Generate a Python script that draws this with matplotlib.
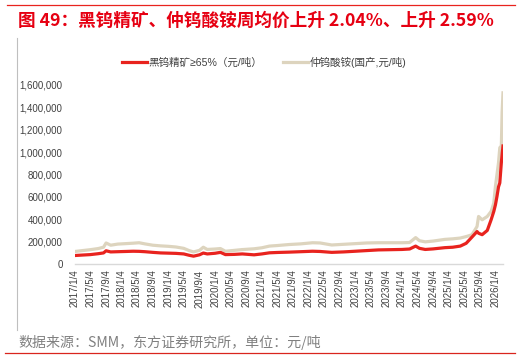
import matplotlib
matplotlib.use("Agg")
import matplotlib.pyplot as plt
from matplotlib.lines import Line2D
import pandas as pd
from matplotlib.ticker import FuncFormatter

plt.rcParams['font.family'] = ['Liberation Sans', 'Noto Sans CJK SC', 'DejaVu Sans']

dates = ["2017-01-04", "2017-03-04", "2017-05-04", "2017-07-04", "2017-08-15", "2017-09-04",
         "2017-10-10", "2017-12-04", "2018-02-04", "2018-04-04", "2018-05-20", "2018-07-04",
         "2018-09-04", "2018-11-04", "2019-01-04", "2019-03-04", "2019-05-04", "2019-06-15",
         "2019-07-20", "2019-09-04", "2019-10-04", "2019-11-04", "2020-01-04", "2020-02-15",
         "2020-03-25", "2020-06-04", "2020-08-04", "2020-11-04", "2021-01-04", "2021-03-04",
         "2021-05-04", "2021-08-04", "2021-11-04", "2022-02-04", "2022-04-04", "2022-07-04",
         "2022-10-04", "2023-01-04", "2023-04-04", "2023-07-04", "2023-10-04", "2024-01-04",
         "2024-03-04", "2024-04-20", "2024-05-20", "2024-07-04", "2024-09-04", "2024-12-04",
         "2025-02-04", "2025-04-04", "2025-05-20", "2025-07-04", "2025-08-13", "2025-08-25",
         "2025-09-22", "2025-11-01", "2025-12-01", "2025-12-22", "2026-01-04", "2026-01-16",
         "2026-01-28", "2026-02-07", "2026-02-19", "2026-02-25", "2026-03-04"]

# 仲钨酸铵(国产), 千元/吨
apt_k = [112, 120, 128, 138, 150, 188, 168, 178, 182, 186, 190, 180,
         168, 162, 158, 152, 140, 120, 108, 122, 150, 130, 134, 138,
         114, 122, 129, 136, 145, 160, 165, 174, 180, 190, 188, 170,
         176, 182, 188, 190, 190, 190, 192, 236, 208, 198, 205, 220,
         225, 232, 245, 261, 335, 425, 395, 425, 470, 545, 695, 800,
         905, 1040, 1055, 1355, 1530]

# 黑钨精矿≥65%, 千元/吨
wolf_k = [76, 80, 84, 92, 99, 118, 108, 110, 112, 114, 113, 110,
          104, 99, 97, 95, 90, 78, 70, 82, 98, 90, 96, 104,
          84, 86, 90, 82, 90, 100, 103, 106, 110, 114, 112, 104,
          108, 114, 120, 126, 128, 130, 134, 160, 140, 130, 135, 146,
          150, 160, 185, 240, 290, 275, 262, 300, 395, 470, 530, 605,
          690, 725, 905, 980, 1055]

tick_labels = ["2017/1/4", "2017/5/4", "2017/9/4", "2018/1/4", "2018/5/4", "2018/9/4",
               "2019/1/4", "2019/5/4", "2019/9/4", "2020/1/4", "2020/5/4", "2020/9/4",
               "2021/1/4", "2021/5/4", "2021/9/4", "2022/1/4", "2022/5/4", "2022/9/4",
               "2023/1/4", "2023/5/4", "2023/9/4", "2024/1/4", "2024/5/4", "2024/9/4",
               "2025/1/4", "2025/5/4", "2025/9/4", "2026/1/4"]

label_wolf = "黑钨精矿≥65%（元/吨）"
label_apt = "仲钨酸铵(国产,元/吨)"
title = "图 49：黑钨精矿、仲钨酸铵周均价上升 2.04%、上升 2.59%"
source = "数据来源：SMM，东方证券研究所，单位：元/吨"

x = pd.to_datetime(dates)
apt = [v * 1000 for v in apt_k]
wolf = [v * 1000 for v in wolf_k]
tick_dates = pd.to_datetime(tick_labels, format="%Y/%m/%d")

W, H = 522, 359
fig = plt.figure(figsize=(W / 100, H / 100), dpi=100)
ax = fig.add_axes([75 / W, 1 - 264 / H, (503 - 75) / W, (264 - 85) / H])

red = "#E8231E"
beige = "#DDD4BE"
ax.plot(x, apt, color=beige, lw=2.3, solid_joinstyle="round", label=label_apt)
ax.plot(x, wolf, color=red, lw=2.3, solid_joinstyle="round", label=label_wolf)

ax.set_ylim(0, 1600000)
ax.set_yticks(range(0, 1600001, 200000))
ax.yaxis.set_major_formatter(FuncFormatter(lambda v, p: f"{int(v):,}"))
ax.set_xlim(x[0], x[-1])
ax.set_xticks(tick_dates)
ax.set_xticklabels(tick_labels, rotation=90, va="top", ha="center")

for s in ["top", "right", "left"]:
    ax.spines[s].set_visible(False)
ax.spines["bottom"].set_color("#D9D9D9")
ax.spines["bottom"].set_linewidth(1.0)
ax.tick_params(axis="both", length=0, labelsize=7, colors="#404040")
ax.tick_params(axis="y", pad=9)
ax.tick_params(axis="x", pad=4)

handles = [Line2D([], [], color=red, lw=2.3), Line2D([], [], color=beige, lw=2.3)]
fig.legend(handles, [label_wolf, label_apt], loc="center", bbox_to_anchor=(264 / W, 1 - 62.5 / H),
           ncol=2, frameon=False, fontsize=7.6, handlelength=2.4, handletextpad=0.1,
           columnspacing=2.0, labelcolor="#404040")

fig.text(18 / W, 1 - 21 / H, title, color="#E60012", fontsize=12.7, fontweight="bold",
         va="center", ha="left", family=["Noto Sans CJK SC", "DejaVu Sans"])
fig.text(18 / W, 1 - 342 / H, source, color="#808080", fontsize=10.1,
         va="center", ha="left", family=["Noto Sans CJK SC", "DejaVu Sans"])

fig.add_artist(Line2D([7 / W, 515 / W], [1 - 5 / H, 1 - 5 / H], color="#E8231E", lw=0.9))
fig.add_artist(Line2D([5 / W, 515 / W], [1 - 353 / H, 1 - 353 / H], color="#D9251D", lw=0.9))
fig.add_artist(Line2D([17 / W, 17 / W], [1 - 38 / H, 1 - 330 / H], color="#BFBFBF", lw=0.8))

fig.savefig("out.png", dpi=100)
